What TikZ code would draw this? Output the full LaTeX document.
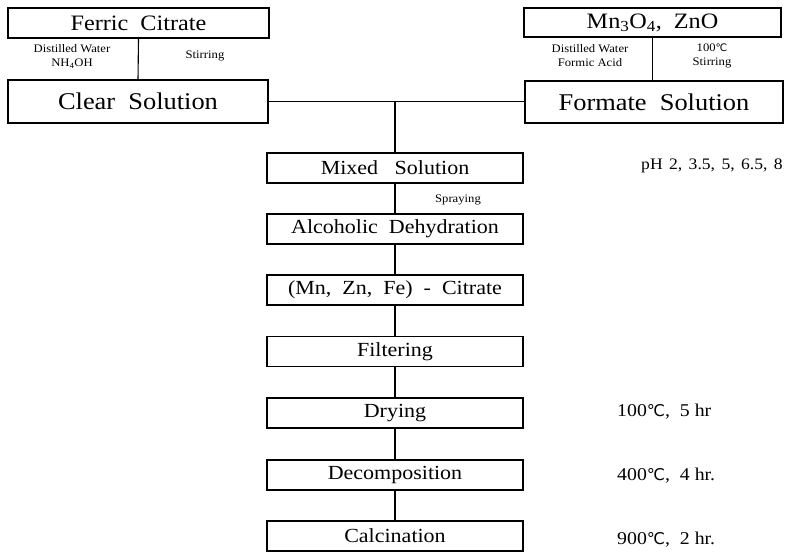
\documentclass[tikz,border=0pt]{standalone}
\usepackage{fontspec}
\setmainfont{Liberation Serif}[FakeStretch=1.1]
\newfontfamily\symfont{DejaVu Sans}
\newcommand\degC{{\symfont\scalebox{0.9}{℃}}}
\begin{document}
\begin{tikzpicture}[x=1pt,y=-1pt,
  box/.style={draw, line width=1.1pt, inner sep=0pt, minimum width=256pt, minimum height=30pt, font=\fontsize{20}{22}\selectfont},
  topbox/.style={box, font=\fontsize{22}{24}\selectfont},
  big/.style={box, font=\fontsize{24}{26}\selectfont},
  small/.style={inner sep=0pt, align=center, font=\fontsize{11.5}{14}\selectfont},
  side/.style={inner sep=0pt, anchor=west, font=\fontsize{18}{20}\selectfont},
  conn/.style={line width=1.1pt}]
\useasboundingbox (0,0) rectangle (791,552);
% top left
\node[topbox, minimum width=261pt] (ferric) at (138.5,23) {Ferric\ \ Citrate};
\node[big, minimum width=260pt, minimum height=43pt] (clear) at (138,101.5) {Clear\ \ Solution};
\node[small] (dw1) at (72,56.5) {Distilled Water\\NH\textsubscript{4}OH};
\node[small] (st1) at (205,56) {Stirring};
% top right
\node[topbox, minimum width=257pt, minimum height=29pt] (mn) at (652.5,22.5) {Mn\textsubscript{3}O\textsubscript{4},\ \ ZnO};
\node[big, minimum width=258pt, minimum height=42pt] (formate) at (654,102) {Formate\ \ Solution};
\node[small] (dw2) at (590,56) {Distilled Water\\Formic Acid};
\node[small] (st2) at (712,56) {100\degC\\Stirring};
% column
\node[box] (mixed) at (395,168) {Mixed\ \ \ Solution};
\node[box] (alc) at (395,229) {Alcoholic\ \ Dehydration};
\node[box] (cit) at (395,290) {(Mn,\ \ Zn,\ \ Fe)\ \ -\ \ Citrate};
\node[box] (filt) at (395,351.5) {Filtering};
\node[box] (dry) at (395,413) {Drying};
\node[box] (dec) at (395,475) {Decomposition};
\node[box] (calc) at (395,536) {Calcination};
\node[small] (spr) at (458,200) {Spraying};
% side notes
\node[side, font=\fontsize{16}{20}\selectfont] (ph) at (641,166) {pH\hspace{.4em}2,\hspace{.4em}3.5,\hspace{.4em}5,\hspace{.4em}6.5,\hspace{.4em}8};
\node[side] (t1) at (617,412) {100\degC,\ \ 5 hr};
\node[side] (t2) at (617,476) {400\degC,\ \ 4 hr.};
\node[side] (t3) at (617,540) {900\degC,\ \ 2 hr.};
% connectors
\draw[conn] (ferric.south) -- (clear.north);
\draw[conn] (mn.south) -- (mn.south |- formate.north);
\draw[conn] (clear.east) -- (formate.west |- clear.east);
\draw[conn] (mixed.north |- clear.east) -- (mixed.north);
\draw[conn] (mixed) -- (alc);
\draw[conn] (alc) -- (cit);
\draw[conn] (cit) -- (filt);
\draw[conn] (filt) -- (dry);
\draw[conn] (dry) -- (dec);
\draw[conn] (dec) -- (calc);
\end{tikzpicture}
\end{document}
